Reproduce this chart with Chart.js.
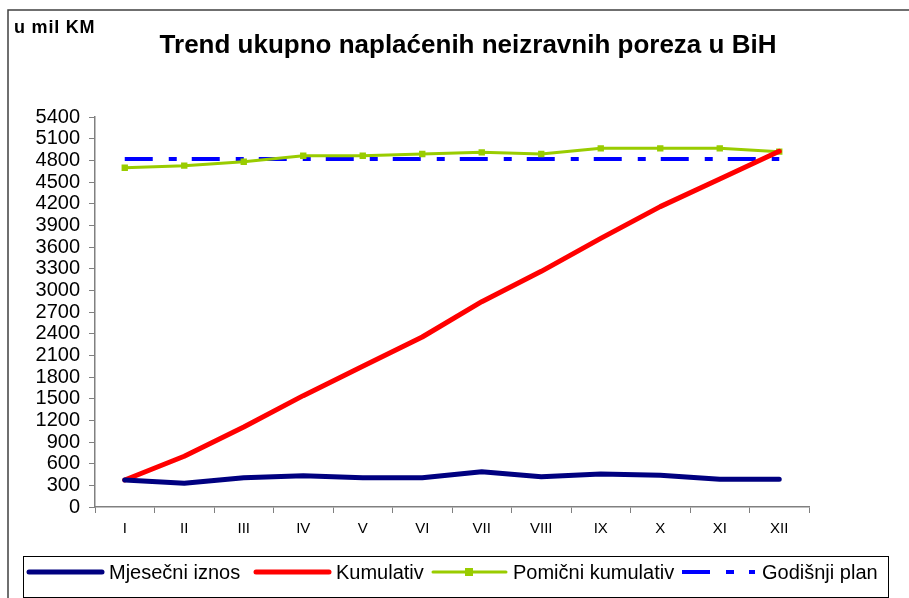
<!DOCTYPE html>
<html>
<head>
<meta charset="utf-8">
<script src="https://cdn.jsdelivr.net/npm/chart.js@4.4.0/dist/chart.umd.min.js"></script>
<style>
  html, body { margin: 0; padding: 0; background: #fff; }
  canvas { display: block; }
</style>
</head>
<body>
<canvas id="grafikon" width="909" height="598"></canvas>
<script>
// podaci (u mil KM)
var mjeseci = ["I", "II", "III", "IV", "V", "VI", "VII", "VIII", "IX", "X", "XI", "XII"];
var mjesecniIznos = [374, 328, 406, 434, 406, 406, 489, 420, 457, 439, 383, 383];
var kumulativ = [374, 702, 1108, 1542, 1948, 2354, 2843, 3263, 3720, 4159, 4542, 4925];
var pomicniKumulativ = [4698, 4726, 4781, 4864, 4864, 4888, 4911, 4888, 4966, 4966, 4966, 4920];
var godisnjiPlan = [4820, 4820, 4820, 4820, 4820, 4820, 4820, 4820, 4820, 4820, 4820, 4820];

var naslov = "Trend ukupno naplaćenih neizravnih poreza u BiH";
var jedinica = "u mil KM";

var font = "'Liberation Sans', Arial, sans-serif";

// okvir, naslov i legenda
var okvirPlugin = {
    id: 'okvir',
    afterDraw: function (chart) {
        var c = chart.ctx;
        c.save();
        c.strokeStyle = '#404040';
        c.lineWidth = 1.5;
        c.beginPath();
        c.moveTo(8, 598);
        c.lineTo(8, 10);
        c.lineTo(909, 10);
        c.stroke();

        c.fillStyle = '#000';
        c.textBaseline = 'alphabetic';
        c.textAlign = 'left';
        c.font = 'bold 18px ' + font;
        c.letterSpacing = '0.8px';
        c.fillText(jedinica, 14, 33);
        c.letterSpacing = '0px';
        c.textAlign = 'center';
        c.font = 'bold 26px ' + font;
        c.fillText(naslov, 468, 53);

        // legenda
        c.lineWidth = 1;
        c.strokeStyle = '#000';
        c.strokeRect(23.5, 556.5, 865, 41);
        var y = 572;
        var stavke = chart.data.datasets;
        var xs = [29, 256, 433, 682];
        c.font = '20px ' + font;
        c.textAlign = 'left';
        c.textBaseline = 'middle';
        stavke.forEach(function (ds, i) {
            var x0 = xs[i];
            c.save();
            c.strokeStyle = ds.borderColor;
            c.lineWidth = ds.borderWidth;
            c.lineCap = ds.borderDash ? 'butt' : 'round';
            if (ds.borderDash) c.setLineDash(ds.borderDash);
            c.beginPath();
            c.moveTo(x0, y);
            c.lineTo(x0 + 73, y);
            c.stroke();
            if (ds.pointRadius) {
                c.fillStyle = ds.borderColor;
                c.fillRect(x0 + 36 - 4, y - 4, 8, 8);
            }
            c.restore();
            c.fillStyle = '#000';
            c.fillText(ds.label, x0 + 80, y + 1);
        });
        c.restore();
    }
};

var ctx = document.getElementById('grafikon').getContext('2d');
var grafikon = new Chart(ctx, {
    type: 'line',
    data: {
        labels: mjeseci,
        datasets: [{
            label: "Mjesečni iznos",
            data: mjesecniIznos,
            borderColor: '#000080',
            borderWidth: 5,
            pointRadius: 0,
            borderCapStyle: 'round',
            borderJoinStyle: 'round'
        }, {
            label: "Kumulativ",
            data: kumulativ,
            borderColor: '#FF0000',
            borderWidth: 5,
            pointRadius: 0,
            borderCapStyle: 'round',
            borderJoinStyle: 'round'
        }, {
            label: "Pomični kumulativ",
            data: pomicniKumulativ,
            borderColor: '#99CC00',
            backgroundColor: '#99CC00',
            borderWidth: 3,
            pointStyle: 'rect',
            pointRadius: 4.5,
            pointBorderWidth: 0
        }, {
            label: "Godišnji plan",
            data: godisnjiPlan,
            borderColor: '#0000FF',
            borderWidth: 4,
            pointRadius: 0,
            borderDash: [28, 16, 8, 15]
        }]
    },
    options: {
        responsive: false,
        animation: false,
        devicePixelRatio: 1,
        layout: { padding: { left: 0, top: 117, right: 100, bottom: 51 } },
        plugins: {
            legend: { display: false },
            title: { display: false },
            tooltip: { enabled: false }
        },
        scales: {
            x: {
                offset: true,
                grid: {
                    offset: true,
                    drawOnChartArea: false,
                    drawTicks: true,
                    tickLength: 6,
                    color: '#808080'
                },
                border: { color: '#808080', width: 1.5 },
                ticks: {
                    color: '#000',
                    font: { family: font, size: 15 },
                    padding: 7,
                    maxRotation: 0,
                    autoSkip: false
                },
                afterFit: function (s) { s.height = 40; }
            },
            y: {
                min: 0,
                max: 5400,
                ticks: {
                    stepSize: 300,
                    color: '#000',
                    font: { family: font, size: 20 },
                    padding: 9,
                    autoSkip: false,
                    callback: function (v) { return String(v); }
                },
                grid: {
                    drawOnChartArea: false,
                    drawTicks: true,
                    tickLength: 6,
                    color: '#808080'
                },
                border: { color: '#808080', width: 1.5 },
                afterFit: function (s) { s.width = 95; }
            }
        }
    },
    plugins: [okvirPlugin]
});
</script>
</body>
</html>
